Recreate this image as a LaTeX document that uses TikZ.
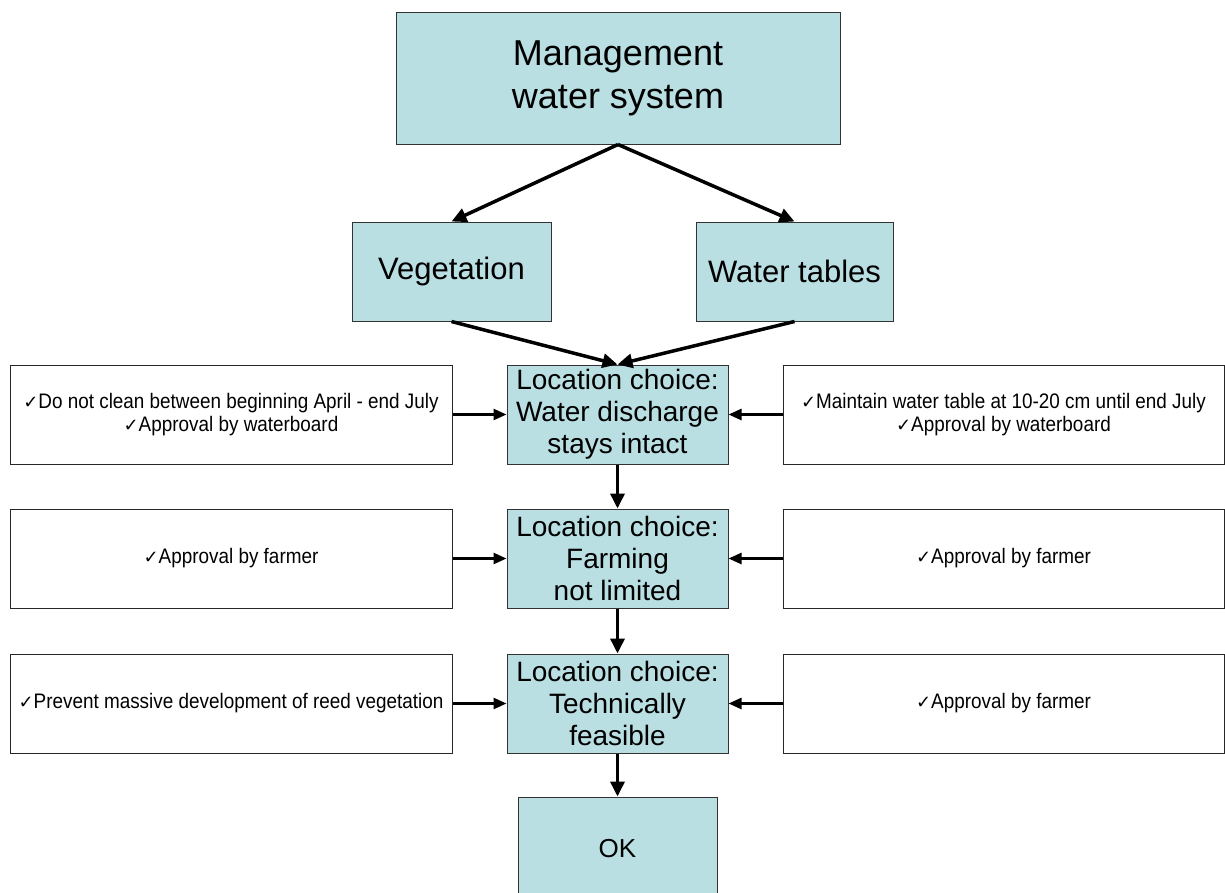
\documentclass[tikz,border=0pt]{standalone}
\usepackage{fontspec}
\setmainfont{Liberation Sans}
\newfontfamily\symf{DejaVu Sans}
\newfontfamily\sidef[FakeStretch=0.9]{Liberation Sans}
\usetikzlibrary{arrows.meta}
\definecolor{boxfill}{RGB}{185,223,227}
\newcommand\ck{{\symf\fontsize{18}{18}\selectfont ✓}}
\begin{document}
\begin{tikzpicture}[x=1pt,y=-1pt,
  bluebox/.style={draw=black!80, line width=1pt, fill=boxfill, inner sep=0pt, align=center, text=black},
  sidebox/.style={draw=black!85, line width=1pt, fill=white, inner sep=0pt, align=center, minimum width=442pt, minimum height=99pt, font=\sidef\fontsize{21}{22.5}\selectfont},
  locbox/.style={bluebox, minimum width=221pt, minimum height=99pt, font=\fontsize{28}{32}\selectfont},
  bigarrow/.style={line width=3.5pt, -{Triangle[length=15pt,width=14pt]}},
  sidearrow/.style={line width=2.5pt, -{Triangle[length=13pt,width=11pt]}}
]
\clip (0,0) rectangle (1225,892);
\fill[white] (0,0) rectangle (1225,892);

\node[bluebox, minimum width=444pt, minimum height=132pt, font=\fontsize{36}{43}\selectfont] (top) at (618,78) {Management\\ water system};
\node[bluebox, minimum width=199pt, minimum height=99pt, font=\fontsize{31}{35}\selectfont] (veg) at (451.5,271.5) {Vegetation};
\node[bluebox, minimum width=197pt, minimum height=99pt, font=\fontsize{31}{35}\selectfont] (wt) at (794.5,271.5) {Water tables};

\node[locbox] (loc1) at (617.5,414.5) {Location choice:\\ Water discharge\\ stays intact};
\node[locbox] (loc2) at (617.5,558.5) {Location choice:\\ Farming\\ not limited};
\node[locbox] (loc3) at (617.5,703.5) {Location choice:\\ Technically\\ feasible};
\node[bluebox, minimum width=199pt, minimum height=104pt, font=\fontsize{26}{30}\selectfont] (ok) at (617.5,849) {OK};

\node[sidebox] (l1) at (231,414.5) {\ck Do not clean between beginning April - end July\\ \ck Approval by waterboard};
\node[sidebox] (l2) at (231,558.5) {\ck Approval by farmer};
\node[sidebox] (l3) at (231,703.5) {\ck Prevent massive development of reed vegetation};
\node[sidebox, minimum width=441pt] (r1) at (1003.5,414.5) {\ck Maintain water table at 10-20 cm until end July\\ \ck Approval by waterboard};
\node[sidebox, minimum width=441pt] (r2) at (1003.5,558.5) {\ck Approval by farmer};
\node[sidebox, minimum width=441pt] (r3) at (1003.5,703.5) {\ck Approval by farmer};

\draw[bigarrow] (top.south) -- (veg.north);
\draw[bigarrow] (top.south) -- (wt.north);
\draw[bigarrow] (veg.south) -- (loc1.north);
\draw[bigarrow] (wt.south) -- (loc1.north);
\draw[bigarrow] (loc1.south) -- (loc2.north);
\draw[bigarrow] (loc2.south) -- (loc3.north);
\draw[bigarrow] (loc3.south) -- (ok.north);

\draw[sidearrow] (l1.east) -- (loc1.west);
\draw[sidearrow] (l2.east) -- (loc2.west);
\draw[sidearrow] (l3.east) -- (loc3.west);
\draw[sidearrow] (r1.west) -- (loc1.east);
\draw[sidearrow] (r2.west) -- (loc2.east);
\draw[sidearrow] (r3.west) -- (loc3.east);
\end{tikzpicture}
\end{document}
